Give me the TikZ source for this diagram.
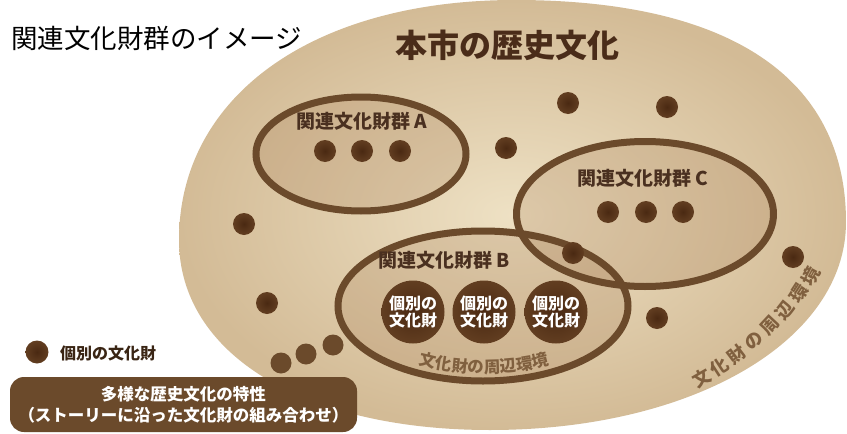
\documentclass[tikz,border=0pt]{standalone}
\usepackage{fontspec}
\setmainfont{Noto Sans CJK JP}
\usetikzlibrary{decorations.text}
\definecolor{dotin}{HTML}{4A2912}
\definecolor{dotout}{HTML}{623E21}
\definecolor{ringc}{HTML}{6B4A2B}
\definecolor{titlec}{HTML}{4A2C19}
\definecolor{labelc}{HTML}{4A3020}
\definecolor{envc}{HTML}{80603F}
\definecolor{bgin}{HTML}{EEE1C4}
\definecolor{bgout}{HTML}{D3BB96}
\definecolor{grpfill}{HTML}{A0734A}
\definecolor{legc}{HTML}{3A2514}
\begin{document}
\begin{tikzpicture}[x=1pt,y=-1pt,
  dot/.style={circle, inner sep=0pt, minimum size=22pt, inner color=dotin, outer color=dotout},
  smalldot/.style={circle, inner sep=0pt, minimum size=21pt, fill=ringc},
  bigdot/.style={circle, inner sep=0pt, minimum size=63pt, inner color=dotin, outer color=dotout,
    text=white, align=center, font=\bfseries\fontsize{16}{16.5}\selectfont},
  grplabel/.style={inner sep=0pt, text=labelc, font=\bfseries\fontsize{19}{22}\selectfont},
  ring/.style={draw=ringc, line width=7pt},
  grpshade/.style={fill=grpfill, fill opacity=0.22},
  envch/.style={inner sep=0pt, text=envc, font=\bfseries\fontsize{18}{20}\selectfont}
]
\useasboundingbox (0,0) rectangle (847,434);

% big background shape
\shade[inner color=bgin, outer color=bgout]
  (515,0) .. controls (730,0) and (846,78) .. (846,222)
  .. controls (846,340.6) and (693,430) .. (490,430)
  .. controls (303.4,430) and (179,354) .. (179,240)
  .. controls (179,96) and (313.4,0) .. (515,0) -- cycle;

% group fills
\fill[grpshade] (361,154) ellipse [x radius=105, y radius=57];
\fill[grpshade] (645,214) ellipse [x radius=128.5, y radius=72.5];
\fill[grpshade] (483,306) ellipse [x radius=145, y radius=75];
% group rings
\draw[ring] (361,154) ellipse [x radius=105, y radius=57];
\draw[ring] (645,214) ellipse [x radius=128.5, y radius=72.5];
\draw[ring] (483,306) ellipse [x radius=145, y radius=75];

% titles
\node[anchor=west, inner sep=0pt, font=\fontsize{26.5}{30}\selectfont] (title) at (11,38) {関連文化財群のイメージ};
\node[inner sep=0pt, text=titlec, font=\bfseries\fontsize{32}{36}\selectfont] (main) at (507,45) {本市の歴史文化};

% group labels
\node[grplabel] (labA) at (362,121) {関連文化財群 A};
\node[grplabel] (labB) at (444,260) {関連文化財群 B};
\node[grplabel] (labC) at (643,178) {関連文化財群 C};

% group A dots
\node[dot] (a1) at (325,151) {};
\node[dot] (a2) at (362,151) {};
\node[dot] (a3) at (400,151) {};
% group C dots
\node[dot] (c1) at (608,212) {};
\node[dot] (c2) at (646,212) {};
\node[dot] (c3) at (683,212) {};
% group B big dots
\node[bigdot] (b1) at (413,312) {個別の\\文化財};
\node[bigdot] (b2) at (484,312) {個別の\\文化財};
\node[bigdot] (b3) at (556,312) {個別の\\文化財};

% loose dots
\node[dot] (l1) at (568,103) {};
\node[dot] (l2) at (667,107) {};
\node[dot] (l3) at (506,148) {};
\node[dot] (l4) at (244,224) {};
\node[dot] (l5) at (267,303) {};
\node[dot] (l6) at (793,257) {};
\node[dot] (l7) at (657,318) {};
\node[dot] (l8) at (573,253) {};
% bottom-left trio
\node[smalldot] (s1) at (281,363) {};
\node[smalldot] (s2) at (306,354) {};
\node[smalldot] (s3) at (333,345) {};

% environment label inside B (curved)
\path[decorate, decoration={text along path, text align=center,
  text={|\color{envc}\bfseries\fontsize{16.5}{18}\selectfont|文化財の周辺環境}}]
  (368,339.5) arc[start angle=150, end angle=30, x radius=134, y radius=67];
% environment label of the whole area (curved, placed per character)
\foreach \ch/\px/\py/\ang [count=\i] in
  {文/702/378/30, 化/719/367/33, 財/737/355/37, の/754/341/42,
   周/770/326/47, 辺/785/310/52, 環/799/293/57, 境/811/276/62}
  \node[envch, rotate=\ang] (env\i) at (\px,\py) {\ch};

% legend
\node[dot, minimum size=23pt] (legdot) at (37,352) {};
\node[anchor=west, inner sep=0pt, text=legc, font=\bfseries\fontsize{16}{18}\selectfont] (legtxt) at (60,353) {個別の文化財};

% bottom box
\node[fill=ringc, rounded corners=14pt, minimum width=347pt, minimum height=55pt, inner sep=0pt,
  text=white, align=center, font=\bfseries\fontsize{16.5}{21}\selectfont] (box) at (183.5,404.5)
  {多様な歴史文化の特性\\（ストーリーに沿った文化財の組み合わせ）};
\end{tikzpicture}
\end{document}
